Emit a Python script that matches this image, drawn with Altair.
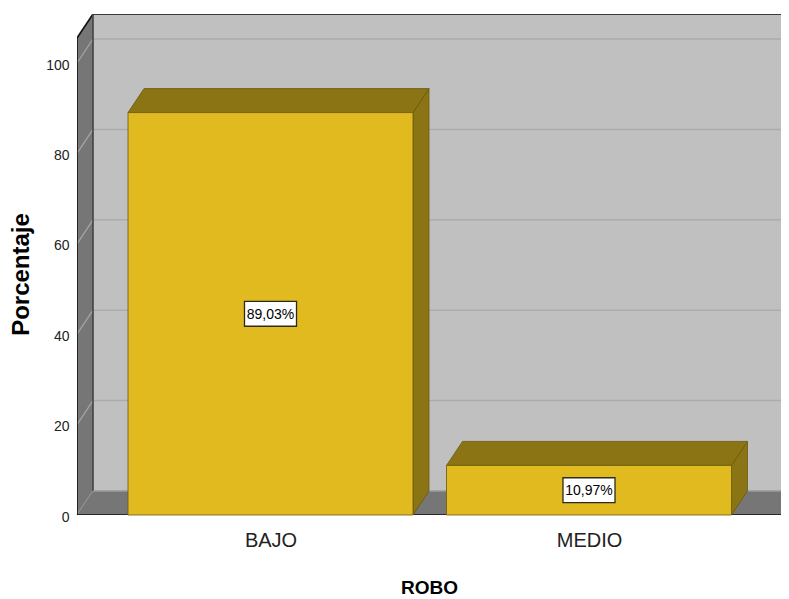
import altair as alt
import pandas as pd

# ---- data -------------------------------------------------------------
categories = ["BAJO", "MEDIO"]
values = [89.03, 10.97]
y_ticks = [0, 20, 40, 60, 80, 100]
x_title = "ROBO"
y_title = "Porcentaje"
labels = [f"{v:.2f}%".replace(".", ",") for v in values]

# ---- geometry (scale units) --------------------------------------------
W, H = 704, 501
PX_CAT = 318.5          # px per category step
PX_PCT = 4.52           # px per percent
XMIN = (77 - 270.5) / PX_CAT
XMAX = XMIN + W / PX_CAT
YMAX = H / PX_PCT
DX = 16 / PX_CAT        # depth offset (x)
DY = 24 / PX_PCT        # depth offset (y)
HALF = 142.5 / PX_CAT   # half bar width
XF = (783 - 270.5) / PX_CAT  # floor front right end
YWALL = YMAX - DY

FONT = "Liberation Sans, Arial, sans-serif"

C_WALL = "#C0C0C0"
C_SIDE = "#767676"
C_GRID = "#ABABAB"
C_GRID_SIDE = "#A6A6A6"
C_BAR = "#E0BA1F"
C_BAR_DARK = "#8B7414"
C_BAR_EDGE = "#6A590F"

xs = alt.Scale(domain=[XMIN, XMAX], nice=False, zero=False)
ys = alt.Scale(domain=[0, YMAX], nice=False, zero=False)

label_expr = "[" + ",".join(f"'{c}'" for c in categories) + "][datum.value]"
AX_X = alt.Axis(
    values=[0, 1], labelExpr=label_expr, title=x_title,
    grid=False, domain=False, ticks=False, labelFlush=False,
    labelFont=FONT, labelFontSize=20, labelColor="#222222", labelPadding=15,
    titleFont=FONT, titleFontSize=19, titleFontWeight="bold", titleColor="#000000",
    titleX=352, titleY=78, titleBaseline="alphabetic", titleAlign="center")
AX_Y = alt.Axis(
    values=y_ticks, title=y_title, grid=False, domain=False, ticks=False,
    labelFlush=False, labelFont=FONT, labelFontSize=14, labelColor="#222222",
    labelPadding=8, labelOffset=2,
    titleFont=FONT, titleFontSize=24, titleFontWeight="bold", titleColor="#000000",
    titleAngle=270, titleX=-49, titleY=260, titleBaseline="alphabetic",
    titleAlign="center")


def X(f):
    return alt.X(f, type="quantitative", scale=xs, axis=AX_X)


def Y(f):
    return alt.Y(f, type="quantitative", scale=ys, axis=AX_Y)


# back wall
back = pd.DataFrame([{"x": XMIN + DX, "x2": XMAX + DX, "y": DY, "y2": YMAX}])
back_l = alt.Chart(back).mark_rect(color=C_WALL, clip=True).encode(
    x=X("x"), x2="x2", y=Y("y"), y2="y2")

# back grid
grid = pd.DataFrame([{"x": XMIN + DX, "x2": XMAX, "y": v + DY} for v in y_ticks[1:]])
grid_l = alt.Chart(grid).mark_rule(color=C_GRID, strokeWidth=1.5).encode(
    x=X("x"), x2="x2", y=Y("y"))

# left wall
lw = pd.DataFrame([
    {"x": XMIN, "lo": 0, "hi": YWALL},
    {"x": XMIN + DX, "lo": DY, "hi": YMAX},
])
lw_l = alt.Chart(lw).mark_area(color=C_SIDE, opacity=1).encode(
    x=X("x"), y=Y("lo"), y2="hi")

lgrid = pd.DataFrame([{"x": XMIN, "x2": XMIN + DX, "y": v, "y2": v + DY} for v in y_ticks])
lgrid_l = alt.Chart(lgrid).mark_rule(color=C_GRID_SIDE, strokeWidth=1.2).encode(
    x=X("x"), x2="x2", y=Y("y"), y2="y2")

# floor
fl = pd.DataFrame([
    {"x": XMIN, "lo": 0, "hi": 0},
    {"x": XMIN + DX, "lo": 0, "hi": DY},
    {"x": XF, "lo": 0, "hi": DY},
    {"x": XF + DX, "lo": DY, "hi": DY},
])
fl_l = alt.Chart(fl).mark_area(color=C_SIDE, opacity=1, clip=True).encode(
    x=X("x"), y=Y("lo"), y2="hi")

# outlines
edges = pd.DataFrame([
    {"x": XMIN, "x2": XMIN, "y": 0, "y2": YWALL, "c": "#111111"},
    {"x": XMIN, "x2": XMIN + DX, "y": YWALL, "y2": YMAX, "c": "#111111"},
    {"x": XMIN + DX, "x2": XMAX, "y": YMAX, "y2": YMAX, "c": "#111111"},
    {"x": XMIN + DX, "x2": XMIN + DX, "y": DY, "y2": YMAX, "c": "#444444"},
    {"x": XMIN + DX, "x2": XMAX, "y": DY, "y2": DY, "c": "#9A9A9A"},
    {"x": XMIN, "x2": XF, "y": 0, "y2": 0, "c": "#111111"},
    {"x": XF, "x2": XF + DX, "y": 0, "y2": DY, "c": "#111111"},
])
edges_l = alt.Chart(edges).mark_rule(strokeWidth=1.6, clip=True).encode(
    x=X("x"), x2="x2", y=Y("y"), y2="y2",
    color=alt.Color("c:N", scale=None))

# bars
side_rows, top_rows, front_rows, lab_rows = [], [], [], []
for i, (c, v, t) in enumerate(zip(categories, values, labels)):
    side_rows += [
        {"cat": c, "x": i + HALF, "lo": 0, "hi": v},
        {"cat": c, "x": i + HALF + DX, "lo": DY, "hi": v + DY},
    ]
    top_rows += [
        {"cat": c, "x": i - HALF, "lo": v, "hi": v},
        {"cat": c, "x": i - HALF + DX, "lo": v, "hi": v + DY},
        {"cat": c, "x": i + HALF, "lo": v, "hi": v + DY},
        {"cat": c, "x": i + HALF + DX, "lo": v + DY, "hi": v + DY},
    ]
    front_rows.append({"cat": c, "x0": i - HALF, "x1": i + HALF, "y0": 0, "y1": v})
    lab_rows.append({"cat": c, "x": i, "y": v / 2, "t": t})

side_l = alt.Chart(pd.DataFrame(side_rows)).mark_area(
    color=C_BAR_DARK, stroke=C_BAR_EDGE, strokeWidth=0.8, opacity=1).encode(
    x=X("x"), y=Y("lo"), y2="hi", detail="cat:N")
top_l = alt.Chart(pd.DataFrame(top_rows)).mark_area(
    color=C_BAR_DARK, stroke=C_BAR_EDGE, strokeWidth=0.8, opacity=1).encode(
    x=X("x"), y=Y("lo"), y2="hi", detail="cat:N")
front_l = alt.Chart(pd.DataFrame(front_rows)).mark_rect(
    color=C_BAR, stroke=C_BAR_EDGE, strokeWidth=0.8).encode(
    x=X("x0"), x2="x1", y=Y("y0"), y2="y1")

box_path = "M-1,-0.48L1,-0.48L1,0.48L-1,0.48Z"
box_l = alt.Chart(pd.DataFrame(lab_rows)).mark_point(
    shape=box_path, size=52 * 52, filled=True, fill="#FFFFFF", opacity=1,
    stroke="#2E2A1A", strokeWidth=1.3).encode(x=X("x"), y=Y("y"))
txt_l = alt.Chart(pd.DataFrame(lab_rows)).mark_text(
    font=FONT, fontSize=14, color="#000000", baseline="middle", align="center", dy=1).encode(
    x=X("x"), y=Y("y"), text="t:N")

chart = alt.layer(
    back_l, grid_l, lw_l, lgrid_l, fl_l, edges_l, side_l, top_l, front_l, box_l, txt_l
).properties(
    width=W, height=H,
    padding={"left": 69, "top": 6, "right": 0, "bottom": 88},
    autosize=alt.AutoSizeParams(type="none"),
).configure_view(stroke=None)

chart.save("out.html", embed_options={"renderer": "svg", "actions": False})
